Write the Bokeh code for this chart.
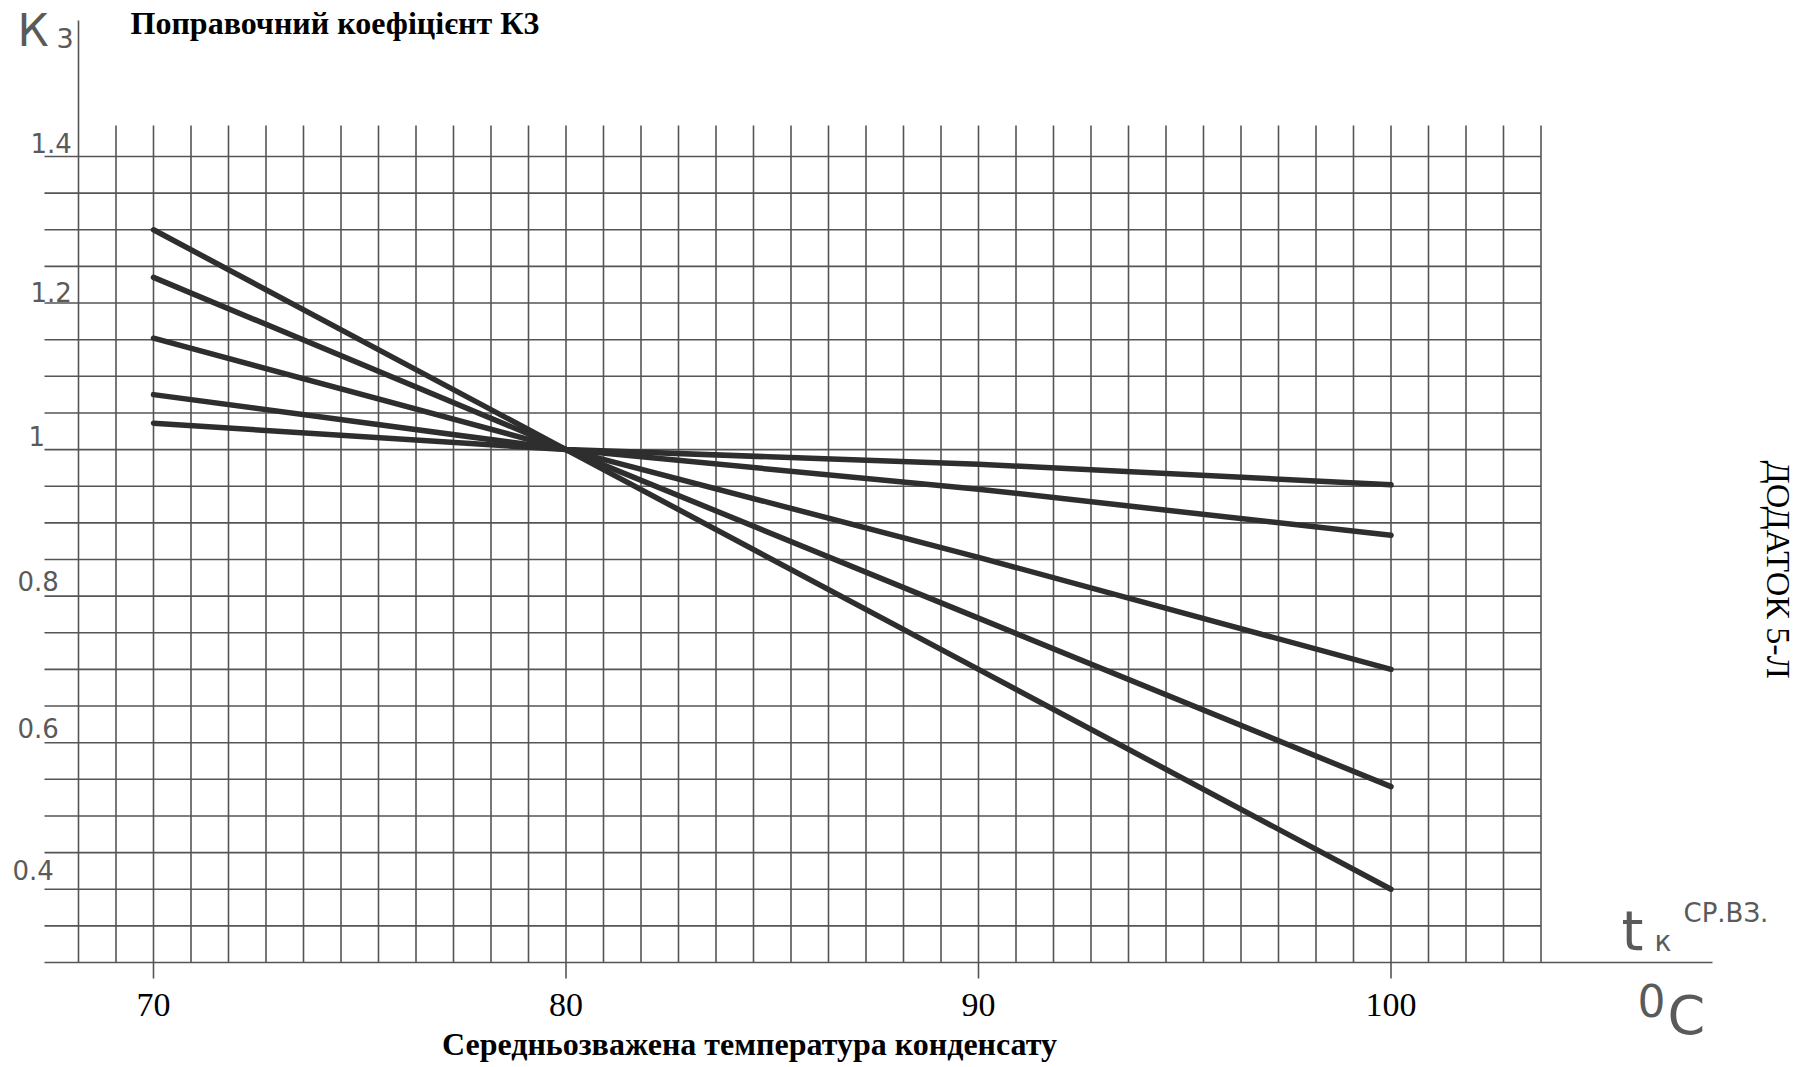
import math
import numpy as np
from bokeh.plotting import figure
from bokeh.models import Range1d
from bokeh.core.properties import value
from bokeh.embed import file_html
from bokeh.resources import INLINE

# ---------------- data ----------------
temperature_c = [70, 80, 90, 100]
k3_curve_1 = [1.300, 1.000, 0.700, 0.400]
k3_curve_2 = [1.235, 1.000, 0.770, 0.540]
k3_curve_3 = [1.152, 1.000, 0.853, 0.700]
k3_curve_4 = [1.075, 1.000, 0.946, 0.883]
k3_curve_5 = [1.036, 1.000, 0.980, 0.952]

x_tick_values = [70, 80, 90, 100]
x_tick_labels = ["70", "80", "90", "100"]
y_tick_values = [1.4, 1.2, 1.0, 0.8, 0.6, 0.4]
y_tick_labels = ["1.4", "1.2", "1", "0.8", "0.6", "0.4"]

title_text = "Поправочний коефіцієнт К3"
x_title_text = "Середньозважена температура конденсату"
y_symbol_main = "К"
y_symbol_sub = "3"
x_symbol_main = "t"
x_symbol_sub = "к"
x_symbol_sup = "СР.ВЗ."
unit_deg = "0"
unit_c = "C"
side_note = "ДОДАТОК 5-Л"

# ---------------- layout / styling ----------------
W, H = 1804, 1067
PX_PER_DEG = 41.25
PX_PER_UNIT = 806 / 1.1
X70_PX = 153
Y03_PX = 962
CELL_X = 10 / 11          # paper grid spacing along x (deg)
CELL_Y = 0.05             # paper grid spacing along y
BASELINE_SHIFT = 0.4      # em; correction for bokeh's alphabetic anchor

x_start = 70 - X70_PX / PX_PER_DEG
x_end = x_start + W / PX_PER_DEG
y_end = 0.3 + Y03_PX / PX_PER_UNIT
y_start = y_end - H / PX_PER_UNIT


def xd(px):
    return x_start + px / PX_PER_DEG


def yd(py):
    return y_end - py / PX_PER_UNIT


GRID_COLOR = "#555555"
STENCIL_COLOR = "#5a5a5a"
CURVE_COLOR = "#2e2e2e"

p = figure(width=W, height=H, output_backend="svg", toolbar_location=None,
           x_range=Range1d(x_start, x_end), y_range=Range1d(y_start, y_end),
           x_axis_location=None, y_axis_location=None,
           min_border_left=0, min_border_right=0, min_border_top=0,
           min_border_bottom=0,
           background_fill_color="white", border_fill_color="white",
           outline_line_color=None)
p.grid.visible = False

# ---------------- paper grid ----------------
n_vert = 40
gx = 70 + (np.arange(n_vert) - 2) * CELL_X
gy = np.round(0.3 + np.arange(23) * CELL_Y, 4)

grid_top = yd(125)
axis_top = yd(20)
vx0 = list(gx)
vy1 = [axis_top] + [grid_top] * (n_vert - 1)
p.segment(x0=vx0, y0=[0.3] * n_vert, x1=vx0, y1=vy1,
          line_color=GRID_COLOR, line_width=1.6)

# tick marks below the bottom line at the labelled temperatures
tick_bottom = yd(978)
p.segment(x0=x_tick_values, y0=[0.3] * len(x_tick_values),
          x1=x_tick_values, y1=[tick_bottom] * len(x_tick_values),
          line_color=GRID_COLOR, line_width=1.6)

h_left = xd(44)
h_right = gx[-1]
h_right_bottom = xd(1712)
hx1 = [h_right_bottom] + [h_right] * (len(gy) - 1)
p.segment(x0=[h_left] * len(gy), y0=list(gy), x1=hx1, y1=list(gy),
          line_color=GRID_COLOR, line_width=1.6)

# ---------------- curves ----------------
for curve in [k3_curve_1, k3_curve_2, k3_curve_3, k3_curve_4, k3_curve_5]:
    p.line(temperature_c, curve, line_color=CURVE_COLOR, line_width=5.5,
           line_cap="round", line_join="round")


def size_px(size):
    return float(size.replace("px", ""))


# ---------------- y tick labels (stencil style, just above their lines) ----------------
label_left_px = [30, 30, 28, 17, 17, 12]
label_gap_px = [3, 1, 3, 5, 4, 9]
ysz = "26px"
p.text(x=[gx[0]] * len(y_tick_values), y=y_tick_values, text=y_tick_labels,
       x_offset=[lp - 78 for lp in label_left_px],
       y_offset=[-(BASELINE_SHIFT * size_px(ysz) + g) for g in label_gap_px],
       text_align="left", text_baseline="alphabetic",
       text_font=value("DejaVu Sans"), text_font_size=ysz,
       text_color=STENCIL_COLOR)

# ---------------- x tick labels ----------------
xsz = "34px"
p.text(x=x_tick_values, y=[yd(1018)] * len(x_tick_values), text=x_tick_labels,
       y_offset=-BASELINE_SHIFT * size_px(xsz),
       text_align="center", text_baseline="alphabetic",
       text_font=value("Liberation Serif"), text_font_size=xsz,
       text_color="#000000")


def add_text(text, px, py, size, font="DejaVu Sans", style="normal",
             color=STENCIL_COLOR, align="left", angle=0.0):
    s = BASELINE_SHIFT * size_px(size)
    if angle == 0.0:
        xo, yo = 0.0, -s
    else:
        xo, yo = s * math.sin(-angle), 0.0
    p.text(x=[xd(px)], y=[yd(py)], text=[text], x_offset=xo, y_offset=yo,
           angle=angle, text_align=align, text_baseline="alphabetic",
           text_font=value(font), text_font_size=size,
           text_font_style=style, text_color=color)


# axis symbols
add_text(y_symbol_main, 17, 48, "44px")
add_text(y_symbol_sub, 56, 48, "27px")
add_text(x_symbol_main, 1621, 952, "56px")
add_text(x_symbol_sub, 1654, 952, "28px")
add_text(x_symbol_sup, 1683, 923, "26px")
add_text(unit_deg, 1637, 1018, "44px")
add_text(unit_c, 1667, 1037, "54px")

# titles
add_text(title_text, 130, 35, "32px", font="Liberation Serif", style="bold",
         color="#000000")
add_text(x_title_text, 749, 1056, "32px", font="Liberation Serif", style="bold",
         color="#000000", align="center")
add_text(side_note, 1764, 460, "34px", font="Liberation Serif",
         color="#000000", angle=-math.pi / 2)

open("out.html", "w").write(file_html(p, INLINE))
